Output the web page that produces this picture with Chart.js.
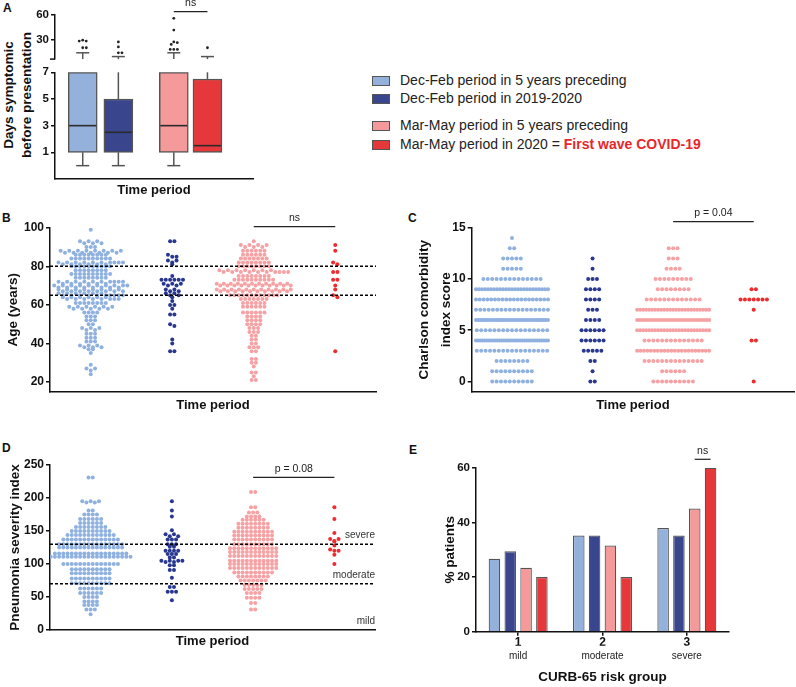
<!DOCTYPE html>
<html><head><meta charset="utf-8">
<script src="https://cdn.jsdelivr.net/npm/chart.js@4.4.1/dist/chart.umd.min.js"></script>
<style>
html,body{margin:0;padding:0;background:#fff;}
body{width:796px;height:687px;position:relative;overflow:hidden;font-family:"Liberation Sans",Arial,sans-serif;color:#111;}
canvas{position:absolute;}
.pl{position:absolute;font-weight:bold;font-size:12px;color:#111;}
.leg{position:absolute;left:372px;font-size:14px;color:#222;white-space:nowrap;}
.leg span.sw{position:absolute;left:0;top:-5px;width:16px;height:8px;border:1px solid #555;}
.leg span.tx{position:absolute;left:28px;top:-9px;line-height:17px;}
</style></head>
<body>
<div class="pl" style="left:3px;top:1px">A</div>
<div class="pl" style="left:2px;top:211px">B</div>
<div class="pl" style="left:408px;top:211px">C</div>
<div class="pl" style="left:2px;top:441px">D</div>
<div class="pl" style="left:409px;top:443px">E</div>
<div style="position:absolute;left:18px;top:95px;width:0;height:0;">
  <div style="position:absolute;left:0;top:0;transform:translate(-50%,-50%) rotate(-90deg);white-space:nowrap;text-align:center;font:bold 13.5px 'Liberation Sans',Arial,sans-serif;line-height:18px;color:#111;">Days symptomic<br>before presentation</div>
</div>
<div id="legend"></div>

<canvas id="cA1" width="260" height="68" style="left:0;top:0"></canvas>
<canvas id="cA2" width="260" height="138" style="left:0;top:62px"></canvas>
<canvas id="cB" width="390" height="220" style="left:0;top:200px"></canvas>
<canvas id="cC" width="406" height="220" style="left:390px;top:200px"></canvas>
<canvas id="cD" width="390" height="267" style="left:0;top:420px"></canvas>
<canvas id="cE" width="406" height="267" style="left:390px;top:420px"></canvas>

<script>
// ---------------- DATA ----------------
const groupNames = ['Dec-Feb period in 5 years preceding','Dec-Feb period in 2019-2020','Mar-May period in 5 years preceding','Mar-May period in 2020 = '];
const fillColors = ['#93b1db','#39468e','#f49a9b','#e6373a'];
const dotColors  = ['#8fb1e0','#29388f','#f6a1a3','#ee2b2d'];

// Panel A: days symptomatic (box plots, broken axis)
const boxX       = [1.4, 3.2, 6.0, 7.7];
const daysMin    = [0, 0, 0, 1];
const daysQ1     = [1, 1, 1, 1];
const daysMedian = [3, 2.5, 3, 1.5];
const daysQ3     = [7, 5, 7, 6.5];
const daysMax    = [15, 10.5, 15, 10.5];
const daysOutliers = [[30,29,29,21,21],[28,22,15,15],[56,42,28,27,25,19,19,19],[21]];
const daysTicksUpper = [30, 60];
const daysTicksLower = [1, 3, 5, 7];

// Panel B: age (value, count)
const ageLB = [[99,1],[93,3],[92,3],[90,3],[88,8],[87,7],[86,8],[84,10],[82,10],[81,6],[80,10],[78,8],[76,10],[74,8],[72,10],[71,6],[70,10],[69,8],[68,8],[67,8],[66,6],[65,10],[64,6],[63,8],[61,8],[59,6],[58,5],[56,4],[54,3],[52,3],[50,2],[48,3],[47,2],[45,3],[43,3],[41,3],[39,3],[38,3],[37,2],[35,1],[29,1],[27,2],[26,1],[24,1]];
const ageDB = [[93,2],[86,1],[85,2],[83,2],[82,1],[81,1],[75,1],[73,6],[71,3],[70,2],[68,2],[67,2],[66,2],[65,2],[64,1],[62,1],[60,2],[58,1],[55,2],[50,1],[49,1],[42,1],[40,1],[36,2]];
const agePK = [[93,1],[91,4],[90,3],[88,6],[86,6],[84,7],[82,8],[80,8],[78,7],[77,10],[75,8],[73,10],[71,11],[70,11],[68,11],[67,10],[65,12],[63,7],[61,6],[59,6],[56,6],[54,4],[52,4],[50,4],[48,3],[46,3],[44,2],[42,2],[40,2],[38,3],[36,2],[32,2],[30,2],[28,1],[25,2],[23,1],[21,2]];
const ageRD = [[91,1],[88,1],[82,1],[81,1],[77,2],[73,2],[70,1],[68,1],[65,1],[64,1],[36,1]];
const ageTicks = [20, 40, 60, 80, 100];
const ageRefLines = [65, 80];

// Panel C: Charlson comorbidity index, counts per score (index = score)
const cciLB = [10,10,8,17,35,17,35,18,20,25,14,5,5,2,1];
const cciDB = [2,1,2,5,6,6,4,3,4,4,3,1,1];
const cciPK = [10,6,14,22,14,25,28,25,13,8,9,4,3,3];
const cciRD = [1,0,0,0,2,0,0,1,7,2];
const cciTicks = [0, 5, 10, 15];

// Panel D: pneumonia severity index (value, count)
const psiLB = [[231,2],[195,3],[193,2],[181,2],[175,4],[168,6],[162,6],[156,8],[150,10],[144,12],[137,14],[130,16],[125,16],[116,18],[111,20],[100,14],[92,10],[86,10],[78,10],[71,10],[63,6],[56,6],[50,4],[43,4],[38,4],[31,3],[24,1]];
const psiDB = [[195,1],[181,1],[172,1],[151,1],[145,2],[142,2],[137,3],[130,3],[126,2],[120,4],[115,3],[110,2],[105,4],[103,2],[98,2],[91,2],[79,1],[65,2],[58,3],[45,1]];
const psiPK = [[209,2],[186,2],[178,3],[172,4],[167,6],[161,8],[155,8],[149,10],[143,10],[137,10],[130,10],[124,12],[118,12],[112,12],[105,12],[100,12],[94,12],[87,10],[81,8],[75,7],[68,5],[62,5],[56,4],[49,4],[41,2],[31,2]];
const psiRD = [[186,1],[168,1],[147,1],[138,2],[135,1],[134,1],[128,1],[122,1],[120,2],[114,1],[100,1]];
const psiTicks = [0, 50, 100, 150, 200, 250];
const psiRefLines = [70, 130];
const psiZoneLabels = [[143,'severe'],[83,'moderate'],[14,'mild']];

// Panel E: CURB-65 (% patients)
const curbLabels = ['1','2','3'];
const curbSub = ['mild','moderate','severe'];
const curbLB = [26.7, 35.2, 37.9];
const curbDB = [29.4, 35.2, 35.2];
const curbPK = [23.4, 31.5, 45.1];
const curbRD = [20, 20, 60];
const curbTicks = [0, 20, 40, 60];

// ---------------- HELPERS ----------------
Chart.defaults.font.family = "'Liberation Sans', Arial, sans-serif";
Chart.defaults.color = '#111';
Chart.defaults.animation = false;
Chart.defaults.plugins.legend.display = false;
Chart.defaults.plugins.tooltip.enabled = false;
const AX = '#111';

function expand(pairs){const o=[];pairs.forEach(([v,c])=>{for(let k=0;k<c;k++)o.push(v);});return o;}
function expandCounts(counts){const o=[];counts.forEach((c,v)=>{for(let k=0;k<c;k++)o.push(v);});return o;}

function yScale(min,max,ticks,title,titleFont,titlePad,width,tickSize){
  return {type:'linear',min,max,
    afterBuildTicks:s=>{s.ticks=ticks.map(v=>({value:v}));},
    afterFit:s=>{s.width=width;},
    border:{display:true,color:AX,width:1.5},
    grid:{display:true,drawOnChartArea:false,drawTicks:true,tickLength:4,color:AX,lineWidth:1.5},
    ticks:{font:{size:tickSize||12,weight:'bold'},color:AX,padding:2},
    title: title?{display:true,text:title,font:titleFont||{size:13.5,weight:'bold'},color:AX,padding:{top:titlePad,bottom:0}}:{display:false}
  };
}
function xSwarm(height,padBottom){
  return {type:'linear',min:0.5,max:4.5,offset:false,
    afterFit:s=>{s.height=height;},
    ticks:{display:false},grid:{display:false},
    border:{display:true,color:AX,width:1.5},
    title:{display:true,text:'Time period',font:{size:13,weight:'bold'},color:AX,padding:{top:0,bottom:padBottom}}};
}
function swarmOffsets(pix,D){
  const idx=pix.map((p,i)=>i).sort((a,b)=>pix[a]-pix[b]);
  const placed=[];const out=new Array(pix.length);
  for(const i of idx){
    const y=pix[i];
    const near=placed.filter(p=>Math.abs(p.y-y)<D);
    const c=[0];
    for(const p of near){const dx=Math.sqrt(D*D-(p.y-y)*(p.y-y));c.push(p.x+dx+0.001,p.x-dx-0.001);}
    c.sort((a,b)=>Math.abs(a)-Math.abs(b));
    let x=0;
    for(const cx of c){if(near.every(p=>(p.x-cx)*(p.x-cx)+(p.y-y)*(p.y-y)>=D*D-0.01)){x=cx;break;}}
    placed.push({x,y});out[i]=x;
  }
  return out;
}
// rows: values whose pixel rows are closer than thr share one centred row (interleaved)
function clusterRowOffsets(vals,pix,D,maxHalf,thr){
  const idx=vals.map((v,i)=>i).sort((a,b)=>pix[a]-pix[b]);
  const out=new Array(vals.length);let k=0;
  while(k<idx.length){
    let j=k;while(j+1<idx.length&&pix[idx[j+1]]-pix[idx[k]]<thr)j++;
    const ks=idx.slice(k,j+1);const n=ks.length;const s=n>1?Math.min(D,2*maxHalf/(n-1)):0;
    const byVal=[];let last=null;
    ks.forEach(kk=>{if(last===null||vals[kk]!==last){byVal.push([]);last=vals[kk];}byVal[byVal.length-1].push(kk);});
    const order=[];let r=0;
    while(order.length<n){byVal.forEach(g=>{if(r<g.length)order.push(g[r]);});r++;}
    order.forEach((kk,m)=>{out[kk]=(m-(n-1)/2)*s;});
    k=j+1;
  }
  return out;
}

const refLinePlugin={id:'refLines',afterDatasetsDraw(chart,args,o){
  if(!o||!o.values)return;const {ctx,chartArea:a,scales:{y}}=chart;
  ctx.save();ctx.setLineDash([3,2]);ctx.lineWidth=1.6;ctx.strokeStyle='#000';
  o.values.forEach(v=>{const py=y.getPixelForValue(v);ctx.beginPath();ctx.moveTo(a.left,py);ctx.lineTo(a.right,py);ctx.stroke();});
  ctx.setLineDash([]);
  if(o.labels){ctx.fillStyle='#333';ctx.font="10px 'Liberation Sans', Arial, sans-serif";ctx.textAlign='right';ctx.textBaseline='middle';
    o.labels.forEach(([v,t])=>{ctx.fillText(t,a.right,y.getPixelForValue(v));});}
  ctx.restore();}};

const sigPlugin={id:'sig',afterDraw(chart,args,o){
  if(!o||!o.text)return;const {ctx,chartArea:a,scales:{x}}=chart;
  let x1,x2;
  if(o.bars){x1=chart.getDatasetMeta(o.bars[0][0]).data[o.bars[0][1]].x;x2=chart.getDatasetMeta(o.bars[1][0]).data[o.bars[1][1]].x;}
  else{x1=x.getPixelForValue(o.from);x2=x.getPixelForValue(o.to);}
  const by=a.top+o.dy;
  ctx.save();ctx.strokeStyle='#222';ctx.lineWidth=1.2;ctx.beginPath();ctx.moveTo(x1,by);ctx.lineTo(x2,by);ctx.stroke();
  ctx.fillStyle='#222';ctx.font="10.5px 'Liberation Sans', Arial, sans-serif";ctx.textAlign='center';ctx.textBaseline='alphabetic';
  ctx.fillText(o.text,(x1+x2)/2,by-5.5);ctx.restore();}};

const boxPlugin={id:'boxParts',afterDatasetsDraw(chart,args,o){
  if(!o||!o.part)return;const {ctx,chartArea:a,scales:{x,y}}=chart;
  ctx.save();ctx.lineWidth=1.5;ctx.strokeStyle='#555';
  const line=(x1,y1,x2,y2)=>{ctx.beginPath();ctx.moveTo(x1,y1);ctx.lineTo(x2,y2);ctx.stroke();};
  const cap=6.5;
  boxX.forEach((bx,i)=>{
    const px=x.getPixelForValue(bx);
    if(o.part==='lower'){
      const el=chart.getDatasetMeta(0).data[i];const hw=el.width/2;
      if(daysMin[i]<daysQ1[i]){line(px,y.getPixelForValue(daysQ1[i]),px,y.getPixelForValue(daysMin[i]));line(px-cap,y.getPixelForValue(daysMin[i]),px+cap,y.getPixelForValue(daysMin[i]));}
      if(daysMax[i]>daysQ3[i]){const top=daysMax[i]>y.max?a.top:y.getPixelForValue(daysMax[i]);line(px,y.getPixelForValue(daysQ3[i]),px,top);}
      ctx.save();ctx.strokeStyle='#2a2a2a';ctx.lineWidth=1.6;const my=y.getPixelForValue(daysMedian[i]);line(px-hw+1,my,px+hw-1,my);ctx.restore();
    } else {
      if(daysMax[i]>y.min){const ty=y.getPixelForValue(daysMax[i]);line(px,a.bottom,px,ty);line(px-cap,ty,px+cap,ty);}
    }
  });
  if(o.part==='upper'){ctx.strokeStyle=AX;line(a.left-5,a.bottom,a.left,a.bottom);}
  ctx.restore();}};

// ---------------- LEGEND ----------------
(function(){
  const rows=[80.7,99.3,126,145];const L=document.getElementById('legend');
  groupNames.forEach((n,i)=>{const d=document.createElement('div');d.className='leg';d.style.top=rows[i]+'px';
    d.innerHTML='<span class="sw" style="background:'+fillColors[i]+'"></span><span class="tx">'+n+(i===3?'<b style="color:#e8272a">First wave COVID-19</b>':'')+'</span>';
    L.appendChild(d);});
})();

// ---------------- PANEL A ----------------
const chartA1=new Chart(document.getElementById('cA1'),{
  type:'scatter',
  data:{datasets:daysOutliers.map((vals,i)=>({data:vals.map(v=>({x:boxX[i],y:v})),pointRadius:1.4,pointHoverRadius:1.4,pointBackgroundColor:'#222',pointBorderWidth:0}))},
  options:{responsive:false,layout:{padding:{top:15,right:7,left:0,bottom:8}},
    scales:{x:{type:'linear',min:0,max:10,display:false},y:yScale(7.5,60,daysTicksUpper,null,null,0,55,11.5)},
    plugins:{boxParts:{part:'upper'},sig:{from:6.0,to:7.7,dy:-3.3,text:'ns'}}},
  plugins:[boxPlugin,sigPlugin]});
(function(){const xs=chartA1.scales.x,ys=chartA1.scales.y;const ppu=xs.getPixelForValue(1)-xs.getPixelForValue(0);
  chartA1.data.datasets.forEach((ds,i)=>{const vals=daysOutliers[i];const off=swarmOffsets(vals.map(v=>ys.getPixelForValue(v)),3.6);
    ds.data=vals.map((v,k)=>({x:boxX[i]+off[k]/ppu,y:v}));});chartA1.update('none');})();

const chartA2=new Chart(document.getElementById('cA2'),{
  type:'bar',
  data:{datasets:[{data:boxX.map((bx,i)=>({x:bx,y:[daysQ1[i],daysQ3[i]]})),backgroundColor:fillColors,borderColor:'#555',borderWidth:1.5,borderSkipped:false,barThickness:29}]},
  options:{responsive:false,layout:{padding:{top:10.3,right:7,left:0,bottom:0}},
    scales:{x:{type:'linear',min:0,max:10,offset:false,afterFit:s=>{s.height=21;},ticks:{display:false},grid:{display:false,offset:false},
        border:{display:true,color:AX,width:1.5},title:{display:true,text:'Time period',font:{size:13,weight:'bold'},color:AX,padding:{top:0,bottom:2}}},
      y:yScale(-1,7,daysTicksLower,null,null,0,55,11.5)},
    plugins:{boxParts:{part:'lower'}}},
  plugins:[boxPlugin]});

// ---------------- SWARM PANELS ----------------
function swarmChart(id,series,o){
  const chart=new Chart(document.getElementById(id),{
    type:'scatter',
    data:{datasets:series.map((vals,i)=>({data:vals.map(v=>({x:i+1,y:v})),pointRadius:2,pointHoverRadius:2,pointBackgroundColor:dotColors[i],pointBorderWidth:0}))},
    options:{responsive:false,layout:{padding:o.pad},
      scales:{x:xSwarm(o.xh,o.xpad),y:o.y},
      plugins:{refLines:o.ref||{},sig:o.sig}},
    plugins:[refLinePlugin,sigPlugin]});
  const xs=chart.scales.x,ys=chart.scales.y;const ppu=xs.getPixelForValue(1)-xs.getPixelForValue(0);
  chart.data.datasets.forEach((ds,i)=>{const vals=series[i];
    const off=clusterRowOffsets(vals,vals.map(v=>ys.getPixelForValue(v)),o.D,o.maxHalf,o.thr);
    ds.data=vals.map((v,k)=>({x:i+1+off[k]/ppu,y:v}));});
  chart.update('none');return chart;
}

swarmChart('cB',[expand(ageLB),expand(ageDB),expand(agePK),expand(ageRD)],{
  pad:{top:27.7,right:14,left:0,bottom:0},xh:28.3,xpad:7,
  y:yScale(15,100,ageTicks,'Age (years)',{size:13.5,weight:'bold'},5,50),
  ref:{values:ageRefLines},sig:{from:3,to:4,dy:-1,text:'ns'},D:4.3,maxHalf:37,thr:2.5});

swarmChart('cC',[expandCounts(cciLB),expandCounts(cciDB),expandCounts(cciPK),expandCounts(cciRD)],{
  pad:{top:27.7,right:0,left:0,bottom:0},xh:28.3,xpad:7,
  y:yScale(-1,15,cciTicks,['Charlson comorbidity','index score'],{size:13.5,weight:'bold',lineHeight:1.65},23,81.7),
  sig:{from:3,to:4,dy:-6,text:'p = 0.04'},D:4.4,maxHalf:36,thr:2.5});

swarmChart('cD',[expand(psiLB),expand(psiDB),expand(psiPK),expand(psiRD)],{
  pad:{top:45,right:15,left:0,bottom:0},xh:57,xpad:38,
  y:yScale(0,250,psiTicks,'Pneumonia severity index',{size:13.5,weight:'bold'},7,50),
  ref:{values:psiRefLines,labels:psiZoneLabels},sig:{from:3,to:4,dy:12.3,text:'p = 0.08'},D:4.2,maxHalf:42,thr:2.5});

// ---------------- PANEL E ----------------
new Chart(document.getElementById('cE'),{
  type:'bar',
  data:{labels:curbLabels,datasets:[curbLB,curbDB,curbPK,curbRD].map((d,i)=>({data:d,backgroundColor:fillColors[i],borderColor:'#555',borderWidth:1.2,categoryPercentage:0.75,barPercentage:0.73}))},
  options:{responsive:false,layout:{padding:{top:47.7,right:67,left:0,bottom:0}},
    scales:{
      x:{type:'category',weight:0,afterFit:s=>{s.height=14;},grid:{display:true,offset:false,drawOnChartArea:false,tickLength:4,color:AX,lineWidth:1.5},
        border:{display:true,color:AX,width:1.5},ticks:{font:{size:12,weight:'bold'},color:AX,padding:0}},
      x2:{type:'category',labels:curbSub,position:'bottom',weight:1,afterFit:s=>{s.height=41.3;},grid:{display:false},border:{display:false},
        ticks:{font:{size:10},color:'#222',padding:-3},
        title:{display:true,text:'CURB-65 risk group',font:{size:13.5,weight:'bold'},color:AX,padding:{top:0,bottom:2}}},
      y:yScale(0,60,curbTicks,'% patients',{size:13.5,weight:'bold'},52,86,11.5)},
    plugins:{sig:{bars:[[2,2],[3,2]],dy:-8.4,text:'ns'}}},
  plugins:[sigPlugin]});
</script>
</body></html>
